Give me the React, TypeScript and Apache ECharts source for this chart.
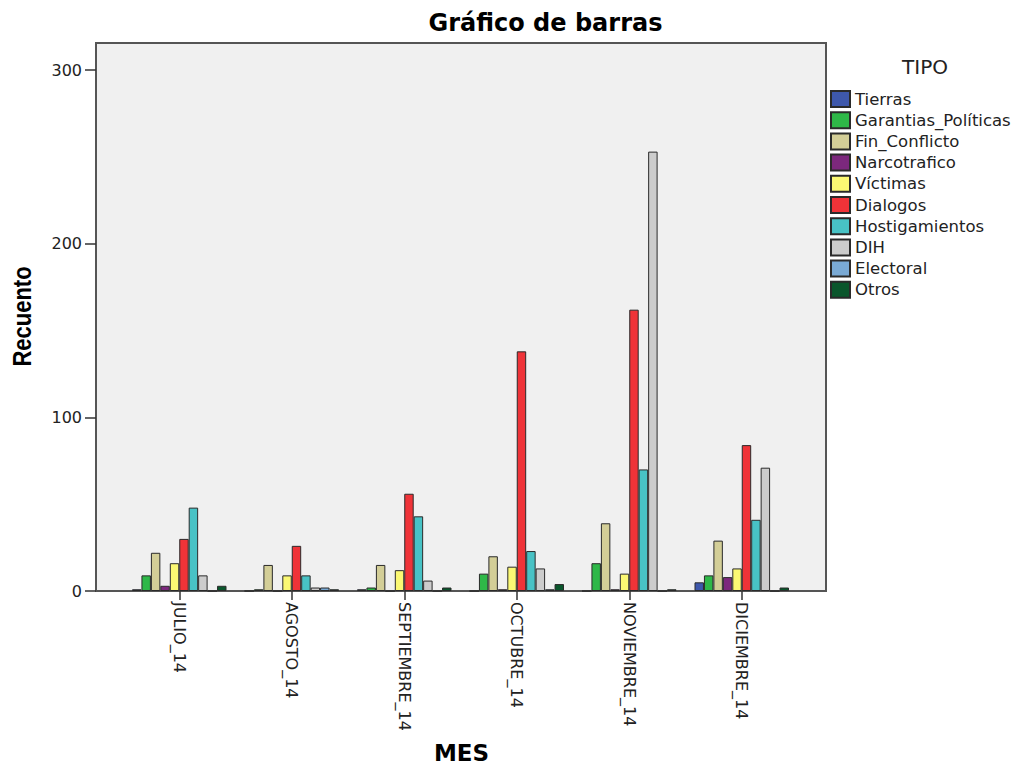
import React, { useEffect, useRef } from "react";
import * as echarts from "echarts";

const categories = ["JULIO_14", "AGOSTO_14", "SEPTIEMBRE_14", "OCTUBRE_14", "NOVIEMBRE_14", "DICIEMBRE_14"];
const seriesNames = ["Tierras", "Garantias_Políticas", "Fin_Conflicto", "Narcotrafico", "Víctimas", "Dialogos", "Hostigamientos", "DIH", "Electoral", "Otros"];
const tierras = [1, 0, 1, 0, 0, 5];
const garantias = [9, 1, 2, 10, 16, 9];
const finConflicto = [22, 15, 15, 20, 39, 29];
const narcotrafico = [3, 0, 0, 1, 1, 8];
const victimas = [16, 9, 12, 14, 10, 13];
const dialogos = [30, 26, 56, 138, 162, 84];
const hostigamientos = [48, 9, 43, 23, 70, 41];
const dih = [9, 2, 6, 13, 253, 71];
const electoral = [0, 2, 0, 1, 0, 0];
const otros = [3, 1, 2, 4, 1, 2];
const seriesValues = [tierras, garantias, finConflicto, narcotrafico, victimas, dialogos, hostigamientos, dih, electoral, otros];
const colors = ["#3E58AC", "#2EB848", "#D3CE97", "#7C287D", "#FBF873", "#EF3338", "#48C2C5", "#CCCCCC", "#7AAAD5", "#0A562C"];
const yTicks = [0, 100, 200, 300];

const FONT = '"DejaVu Sans", sans-serif';

export default function App() {
  const ref = useRef<HTMLDivElement>(null);
  useEffect(() => {
    if (!ref.current) return;
    const chart = echarts.init(ref.current, null, { renderer: "svg" });
    const option: any = {
      animation: false,
      backgroundColor: "#ffffff",
      grid: [
        { left: 96, top: 43, width: 730, height: 548, show: true, backgroundColor: "#f0f0f0", borderColor: "#555555", borderWidth: 2 },
        { left: 123, top: 70, width: 675, height: 521, show: false },
      ],
      xAxis: [
        { gridIndex: 0, type: "value", show: false },
        {
          gridIndex: 1,
          type: "category",
          data: categories,
          axisLine: { show: false },
          axisTick: { show: true, alignWithLabel: true, length: 9, lineStyle: { color: "#333", width: 1.5 } },
          axisLabel: { rotate: -90, margin: 11, fontSize: 16, fontFamily: FONT, color: "#222", interval: 0 },
        },
      ],
      yAxis: [
        { gridIndex: 0, type: "value", show: false },
        {
          gridIndex: 1,
          type: "value",
          min: yTicks[0],
          max: yTicks[yTicks.length - 1],
          interval: 100,
          offset: 27,
          axisLine: { show: false },
          axisTick: { show: true, length: 11, lineStyle: { color: "#333", width: 1.5 } },
          splitLine: { show: false },
          axisLabel: { margin: 14, fontSize: 16, fontFamily: FONT, color: "#222" },
        },
      ],
      legend: {
        orient: "vertical",
        left: 830,
        top: 90,
        padding: 0,
        itemWidth: 19,
        itemHeight: 16,
        itemGap: 3.2,
        icon: "rect",
        textStyle: { fontFamily: FONT, fontSize: 16.5, color: "#222" },
        data: seriesNames,
      },
      series: seriesNames.map((name, i) => ({
        name,
        type: "bar",
        xAxisIndex: 1,
        yAxisIndex: 1,
        data: seriesValues[i],
        barGap: "0%",
        barCategoryGap: "16%",
        itemStyle: { color: colors[i], borderColor: "#2a2a2a", borderWidth: 1 },
      })),
      graphic: [
        {
          type: "text",
          x: 545.5,
          y: 23,
          style: { text: "Gráfico de barras", font: 'bold 24px "DejaVu Sans"', fill: "#000", align: "center", verticalAlign: "middle", textAlign: "center", textVerticalAlign: "middle" },
        },
        {
          type: "text",
          x: 22.5,
          y: 316.5,
          rotation: Math.PI / 2,
          scaleY: 1.15,
          style: { text: "Recuento", font: 'bold 22px "Liberation Sans"', fill: "#000", align: "center", verticalAlign: "middle", textAlign: "center", textVerticalAlign: "middle" },
        },
        {
          type: "text",
          x: 461.5,
          y: 753,
          style: { text: "MES", font: 'bold 23px "DejaVu Sans"', fill: "#000", align: "center", verticalAlign: "middle", textAlign: "center", textVerticalAlign: "middle" },
        },
        {
          type: "text",
          x: 925,
          y: 67,
          style: { text: "TIPO", font: '20px "DejaVu Sans"', fill: "#222", align: "center", verticalAlign: "middle", textAlign: "center", textVerticalAlign: "middle" },
        },
      ],
    };
    chart.setOption(option);
    return () => chart.dispose();
  }, []);
  return <div ref={ref} style={{ position: "absolute", left: 0, top: 0, width: 1020, height: 767 }} />;
}
